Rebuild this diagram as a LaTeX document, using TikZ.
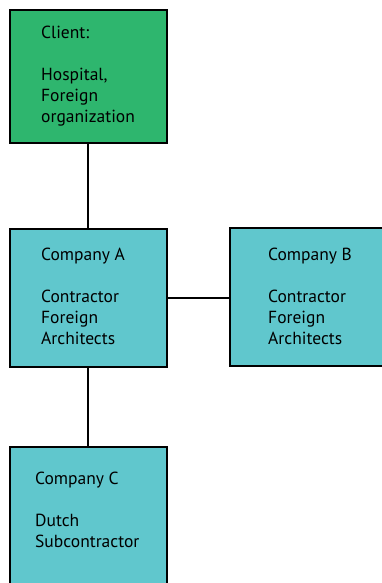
\documentclass[tikz,border=0pt]{standalone}
\usepackage{fontspec}
\setmainfont{PT Sans}
\definecolor{clientgreen}{RGB}{46,182,110}
\definecolor{compcyan}{RGB}{96,199,205}
\begin{document}
\begin{tikzpicture}[x=1pt,y=1pt,
  box/.style={draw=black, line width=1.8pt, rectangle, inner sep=0pt, outer sep=0pt, anchor=north west},
  txt/.style={anchor=base west, inner sep=0pt, font=\fontsize{17.5}{21}\selectfont, align=left, text=black},
  conn/.style={draw=black, line width=2pt}]
\useasboundingbox (0,0) rectangle (381,-583);
\node[box, fill=clientgreen, minimum width=157pt, minimum height=133pt] (client) at (10,-10) {};
\node[box, fill=compcyan, minimum width=157pt, minimum height=138pt] (compA) at (10,-229) {};
\node[box, fill=compcyan, minimum width=165pt, minimum height=138pt] (compB) at (230,-228) {};
\node[box, fill=compcyan, minimum width=157pt, minimum height=150pt] (compC) at (10,-447) {};
\path[conn] ([xshift=-0.5pt]client.south) -- ([xshift=-0.5pt]compA.north);
\path[conn] ([xshift=-0.5pt]compA.south) -- ([xshift=-0.5pt]compC.north);
\path[conn] (compA.east) -- (compB.west |- compA.east);
\node[txt] (tclient) at (41,-123) {Client:\\[21pt]Hospital,\\Foreign\\organization};
\node[txt] (tA) at (41,-344) {Company A\\[21pt]Contractor\\Foreign\\Architects};
\node[txt] (tB) at (268,-344) {Company B\\[21pt]Contractor\\Foreign\\Architects};
\node[txt] (tC) at (35,-547) {Company C\\[21pt]Dutch\\Subcontractor};
\end{tikzpicture}
\end{document}
